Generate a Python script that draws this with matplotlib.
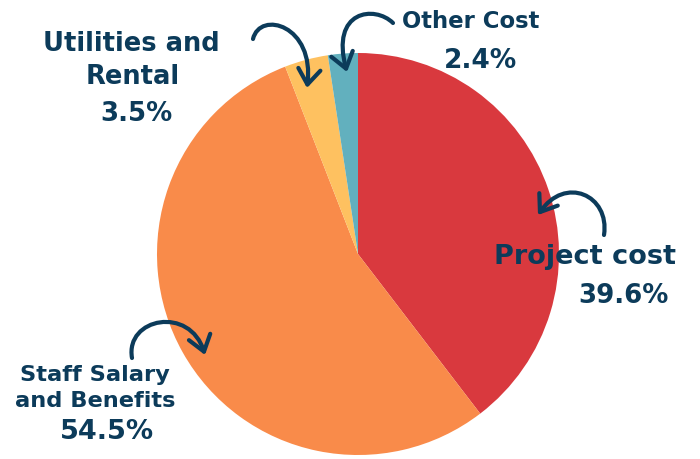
import matplotlib
matplotlib.use("Agg")
import matplotlib.pyplot as plt
from matplotlib.patches import FancyArrowPatch
from matplotlib.path import Path

# shares of total cost, clockwise from 12 o'clock
labels = ["Project cost", "Staff Salary\nand Benefits", "Utilities and\nRental", "Other Cost"]
shares = [39.6, 54.5, 3.5, 2.4]
colors = ["#d9393e", "#f98b4a", "#fec160", "#62b0be"]

navy = "#0c3b5a"
plt.rcParams['font.family'] = ['DejaVu Sans']

fig = plt.figure(figsize=(7, 4.59), dpi=100)
ax = fig.add_axes([0, 0, 1, 1])

# pixel-like coords, y grows downward -> start at -90 and go "counterclock" to look clockwise
ax.pie(shares, colors=colors, startangle=-90, counterclock=True,
       center=(358, 254), radius=201, wedgeprops=dict(linewidth=0))
ax.set_xlim(0, 700)
ax.set_ylim(459, 0)
ax.set_aspect('equal')
ax.axis('off')

txt = dict(color=navy, ha='center', va='center', fontweight='bold')

def put(lines, xs, ys, size):
    for s, x, y in zip(lines, xs, ys):
        ax.text(x, y, s, fontsize=size, **txt)

put(labels[0].split("\n"), [585], [257], 19.5)
put([f"{shares[0]}%"], [623], [296], 18.7)
put(labels[1].split("\n"), [95, 95], [375, 401], 16.2)
put([f"{shares[1]}%"], [107], [432], 19.5)
put(labels[2].split("\n"), [131, 133], [44, 77], 18.5)
put([f"{shares[2]}%"], [136], [114], 18.7)
put(labels[3].split("\n"), [471], [22], 16.4)
put([f"{shares[3]}%"], [481], [61], 19)

# hand-drawn looking curved arrows
C = Path.CURVE4
arrows = [
    [(253, 39), (260, 10), (315, 25), (307, 88)],
    [(393, 23), (375, 5), (330, 10), (347, 72)],
    [(604, 235), (610, 195), (565, 175), (538, 215)],
    [(132, 358), (125, 318), (190, 305), (205, 355)],
]
for pts in arrows:
    p = Path(pts, [Path.MOVETO, C, C, C])
    a = FancyArrowPatch(path=p, arrowstyle='->,head_length=0.55,head_width=0.4',
                        mutation_scale=20, color=navy, lw=3,
                        capstyle='round', joinstyle='round')
    ax.add_patch(a)

plt.savefig('out.png', dpi=100)
